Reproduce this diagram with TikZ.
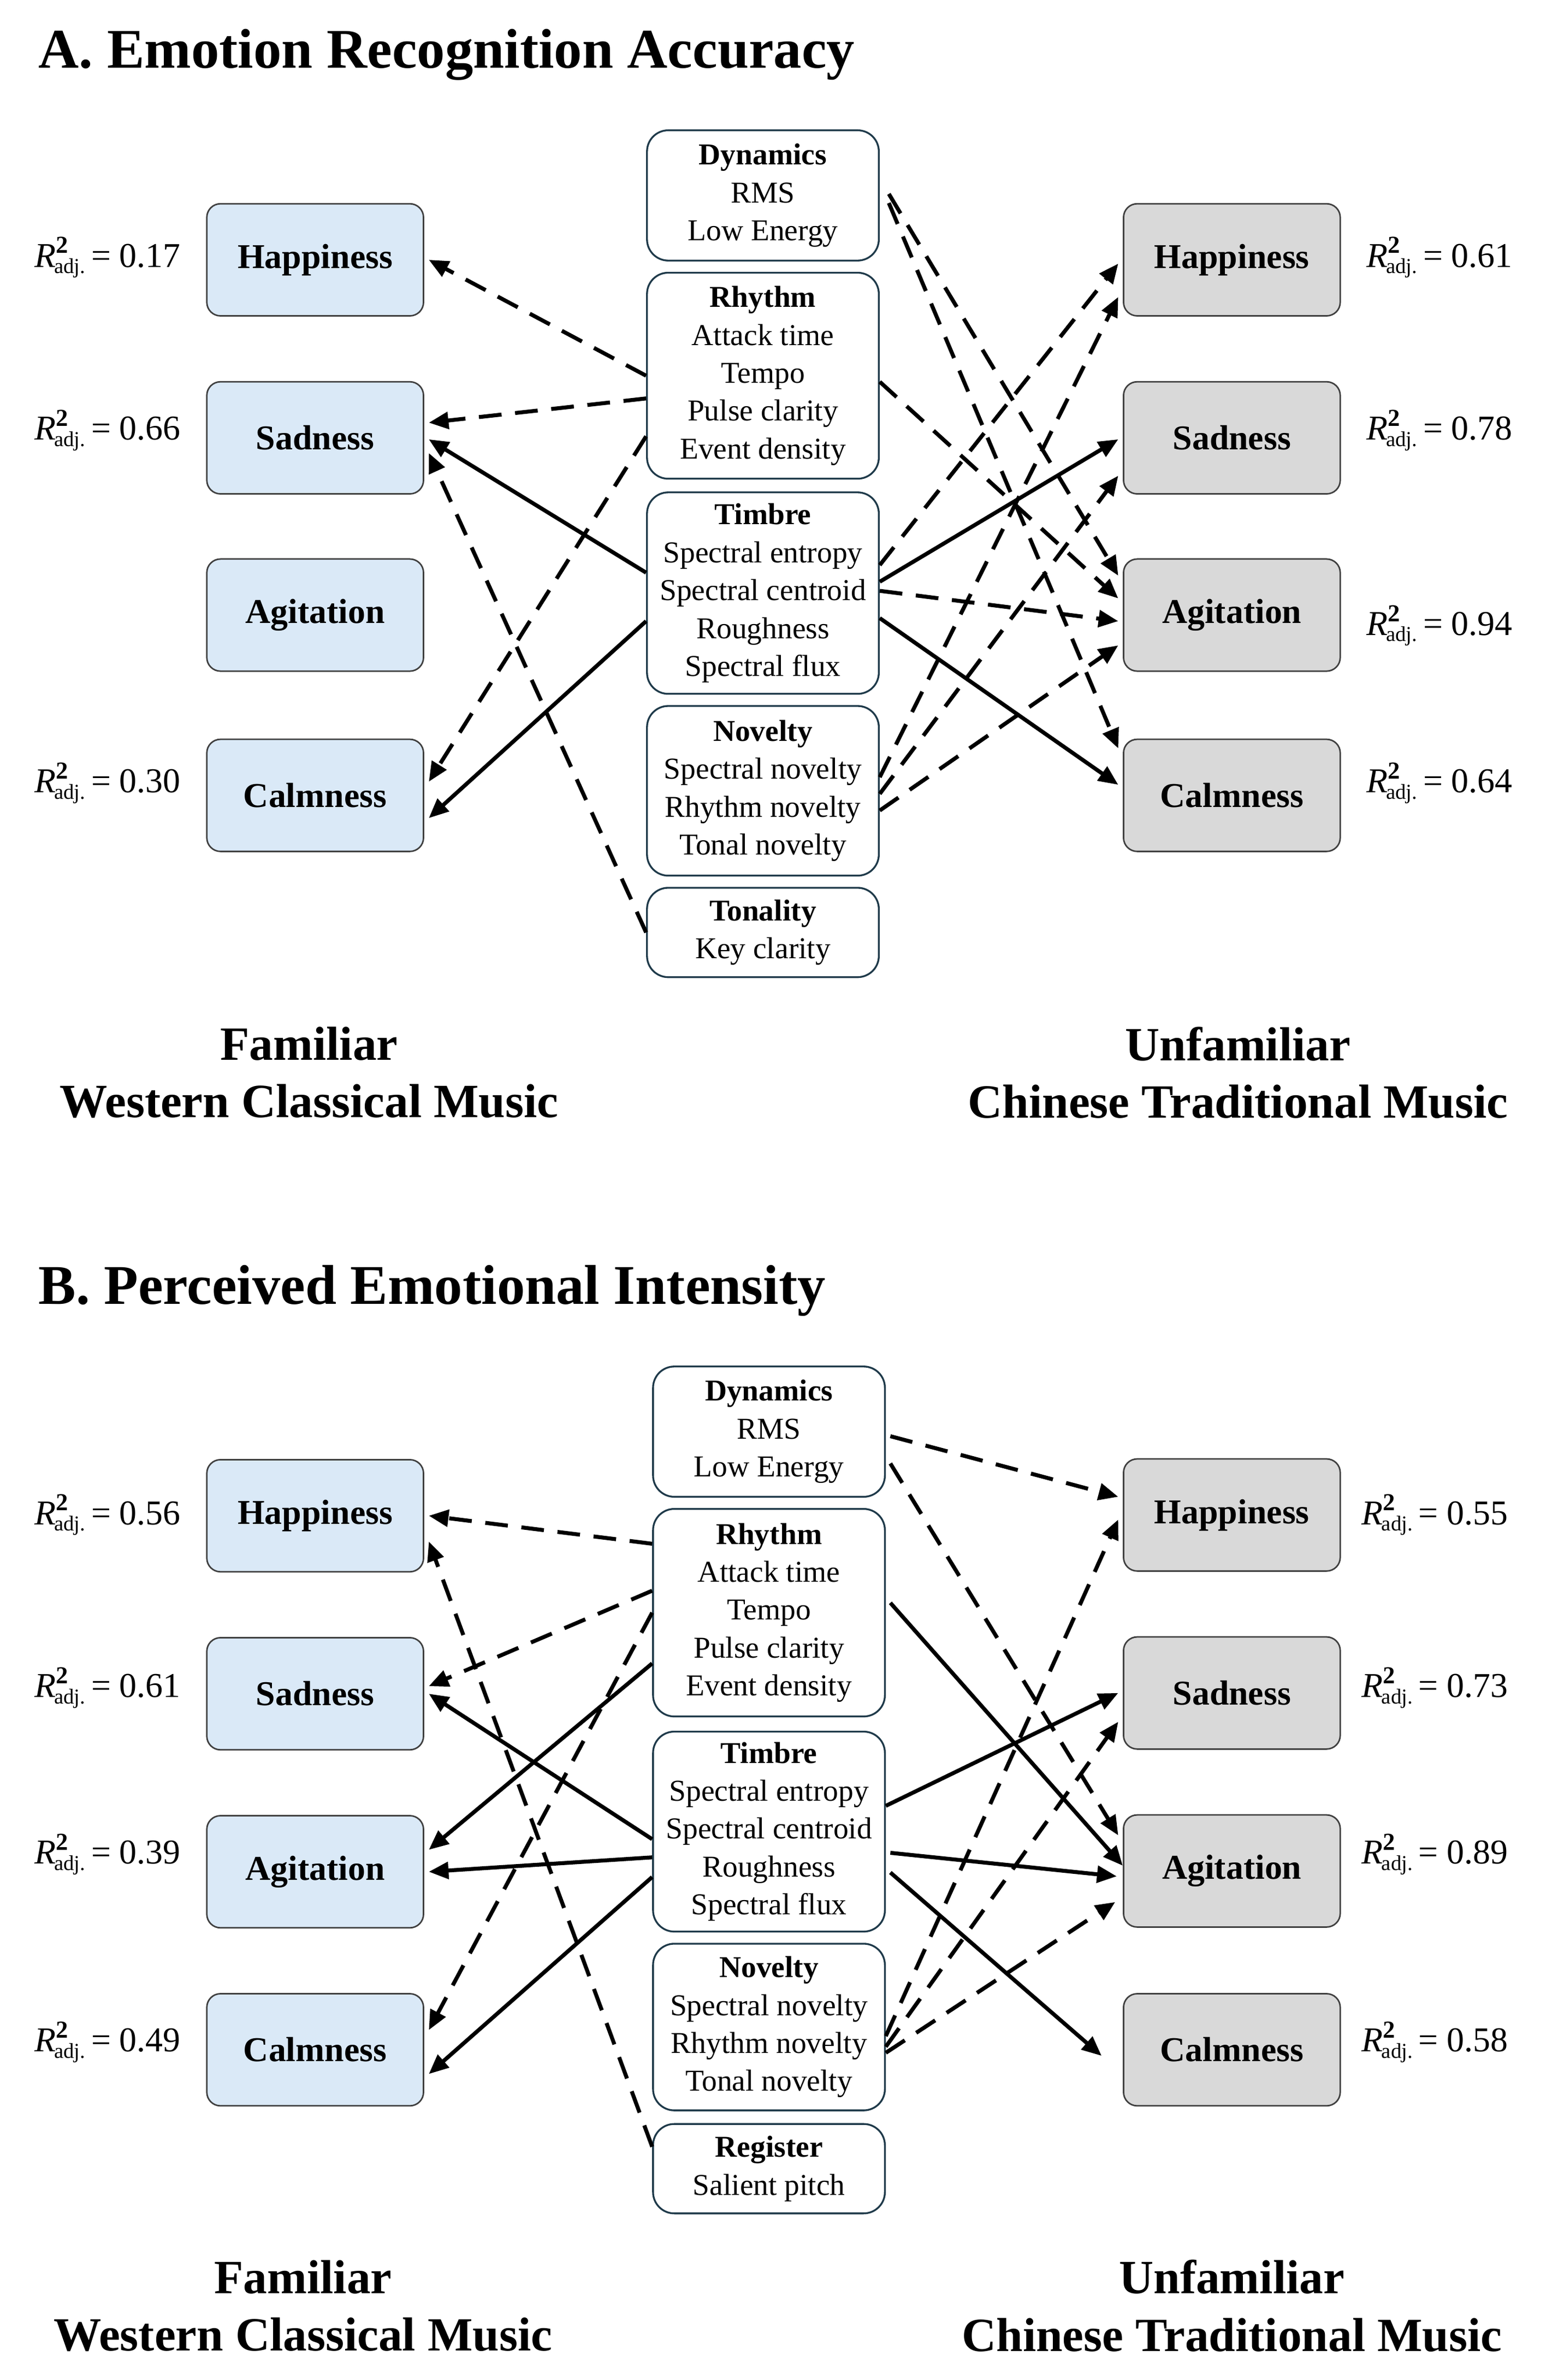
\documentclass[tikz,border=0pt]{standalone}
\usepackage{fontspec}
\setmainfont{Liberation Serif}
\usetikzlibrary{arrows.meta}
\definecolor{lb}{HTML}{DAE9F7}
\definecolor{gr}{HTML}{D9D9D9}
\definecolor{mb}{HTML}{1F3A4A}
\newcommand{\Rsq}[1]{\textit{R}\textsuperscript{\textbf{2}}\kern-0.42em\raisebox{-0.4ex}{\fontsize{14}{14}\selectfont adj.}\,= #1}
\begin{document}
\begin{tikzpicture}[x=1pt,y=-1pt,
 emo/.style={draw=black!75,line width=1pt,rounded corners=9pt,minimum width=143pt,minimum height=74pt,inner sep=0pt,font=\fontsize{23}{23}\selectfont\bfseries},
 L/.style={emo,fill=lb},
 R/.style={emo,fill=gr},
 mid/.style={draw=mb,line width=1.2pt,rounded corners=14pt,minimum width=153pt,inner sep=0pt,align=center,font=\fontsize{20}{25}\selectfont},
 rsq/.style={font=\fontsize{23}{23}\selectfont},
 title/.style={anchor=west,font=\fontsize{37}{37}\selectfont\bfseries},
 foot/.style={font=\fontsize{31.5}{38}\selectfont\bfseries,align=center},
 ar/.style={line width=2.6pt,-{Triangle[length=13pt,width=11pt]}},
 da/.style={ar,dash pattern=on 15pt off 9pt}]
\useasboundingbox (0,0) rectangle (1024,1571);
% ---------- Part A ----------
\node[title] (tA) at (22,36) {A. Emotion Recognition Accuracy};
\node[L] (aLH) at (208,171.5) {Happiness};
\node[L] (aLS) at (208,289) {Sadness};
\node[L] (aLA) at (208,406) {Agitation};
\node[L] (aLC) at (208,525) {Calmness};
\node[R] (aRH) at (813,171.5) {Happiness};
\node[R] (aRS) at (813,289) {Sadness};
\node[R] (aRA) at (813,406) {Agitation};
\node[R] (aRC) at (813,525) {Calmness};
\node[rsq] (ra1) at (71,170) {\Rsq{0.17}};
\node[rsq] (ra2) at (71,284) {\Rsq{0.66}};
\node[rsq] (ra3) at (71,517) {\Rsq{0.30}};
\node[rsq] (ra4) at (950,170) {\Rsq{0.61}};
\node[rsq] (ra5) at (950,284) {\Rsq{0.78}};
\node[rsq] (ra6) at (950,413) {\Rsq{0.94}};
\node[rsq] (ra7) at (950,517) {\Rsq{0.64}};
\node[mid,minimum height=86pt] (aD) at (503.5,129) {\textbf{Dynamics}\\RMS\\Low Energy};
\node[mid,minimum height=136pt] (aRy) at (503.5,248) {\textbf{Rhythm}\\Attack time\\Tempo\\Pulse clarity\\Event density};
\node[mid,minimum height=133pt] (aT) at (503.5,391.5) {\textbf{Timbre}\\Spectral entropy\\Spectral centroid\\Roughness\\Spectral flux};
\node[mid,minimum height=112pt] (aN) at (503.5,522) {\textbf{Novelty}\\Spectral novelty\\Rhythm novelty\\Tonal novelty};
\node[mid,minimum height=59pt] (aK) at (503.5,615.5) {\textbf{Tonality}\\Key clarity};
\node[foot] (fA1) at (204,708) {Familiar\\Western Classical Music};
\node[foot] (fA2) at (817,708) {Unfamiliar\\Chinese Traditional Music};
% right A
\draw[da] ([yshift=1pt,xshift=6pt]aD.east) -- ([yshift=26pt,xshift=-3pt]aRA.west);
\draw[da] ([yshift=-5pt,xshift=6pt]aD.east) -- ([yshift=31pt,xshift=-3pt]aRC.west);
\draw[da] ([yshift=-4pt]aRy.east) -- ([yshift=11pt,xshift=-3pt]aRA.west);
\draw[da] ([yshift=18.5pt]aT.east) -- ([yshift=-2.5pt,xshift=-3pt]aRH.west);
\draw[ar] ([yshift=7.5pt]aT.east) -- ([yshift=-1pt,xshift=-3pt]aRS.west);
\draw[da] ([yshift=1.5pt]aT.east) -- ([yshift=-4pt,xshift=-3pt]aRA.west);
\draw[ar] ([yshift=-16.5pt]aT.east) -- ([yshift=7pt,xshift=-3pt]aRC.west);
\draw[da] ([yshift=9pt]aN.east) -- ([yshift=-24.5pt,xshift=-3pt]aRH.west);
\draw[da] ([yshift=-2pt]aN.east) -- ([yshift=-25pt,xshift=-3pt]aRS.west);
\draw[da] ([yshift=-13pt]aN.east) -- ([yshift=-20pt,xshift=-3pt]aRA.west);
% left A
\draw[da] ([yshift=0pt]aRy.west) -- ([yshift=0pt,xshift=3pt]aLH.east);
\draw[da] ([yshift=-15pt]aRy.west) -- ([yshift=10pt,xshift=3pt]aLS.east);
\draw[da] ([yshift=-40pt]aRy.west) -- ([yshift=9pt,xshift=3pt]aLC.east);
\draw[ar] ([yshift=13.5pt]aT.west) -- ([yshift=-1pt,xshift=3pt]aLS.east);
\draw[ar] ([yshift=-18.5pt]aT.west) -- ([yshift=-15pt,xshift=3pt]aLC.east);
\draw[da] ([yshift=0pt]aK.west) -- ([yshift=-10pt,xshift=3pt]aLS.east);
% ---------- Part B ----------
\node[title] (tB) at (22,852) {B. Perceived Emotional Intensity};
\node[L] (bLH) at (208,1000.5) {Happiness};
\node[L] (bLS) at (208,1118) {Sadness};
\node[L] (bLA) at (208,1235.5) {Agitation};
\node[L] (bLC) at (208,1353) {Calmness};
\node[R] (bRH) at (813,1000) {Happiness};
\node[R] (bRS) at (813,1117.5) {Sadness};
\node[R] (bRA) at (813,1235) {Agitation};
\node[R] (bRC) at (813,1353) {Calmness};
\node[rsq] (rb1) at (71,1000) {\Rsq{0.56}};
\node[rsq] (rb2) at (71,1114) {\Rsq{0.61}};
\node[rsq] (rb3) at (71,1224) {\Rsq{0.39}};
\node[rsq] (rb4) at (71,1348) {\Rsq{0.49}};
\node[rsq] (rb5) at (947,1000) {\Rsq{0.55}};
\node[rsq] (rb6) at (947,1114) {\Rsq{0.73}};
\node[rsq] (rb7) at (947,1224) {\Rsq{0.89}};
\node[rsq] (rb8) at (947,1348) {\Rsq{0.58}};
\node[mid,minimum height=86pt] (bD) at (507.5,945) {\textbf{Dynamics}\\RMS\\Low Energy};
\node[mid,minimum height=137pt] (bRy) at (507.5,1064.5) {\textbf{Rhythm}\\Attack time\\Tempo\\Pulse clarity\\Event density};
\node[mid,minimum height=132pt] (bT) at (507.5,1209) {\textbf{Timbre}\\Spectral entropy\\Spectral centroid\\Roughness\\Spectral flux};
\node[mid,minimum height=110pt] (bN) at (507.5,1338) {\textbf{Novelty}\\Spectral novelty\\Rhythm novelty\\Tonal novelty};
\node[mid,minimum height=59pt] (bG) at (507.5,1431.5) {\textbf{Register}\\Salient pitch};
\node[foot] (fB1) at (200,1522) {Familiar\\Western Classical Music};
\node[foot] (fB2) at (813,1522) {Unfamiliar\\Chinese Traditional Music};
% right B
\draw[da] ([yshift=-3pt,xshift=3pt]bD.east) -- ([yshift=12pt,xshift=-3pt]bRH.west);
\draw[da] ([yshift=-21pt,xshift=3pt]bD.east) -- ([yshift=23.5pt,xshift=-3pt]bRA.west);
\draw[ar] ([yshift=6.5pt,xshift=3pt]bRy.east) -- ([yshift=3.5pt]bRA.west);
\draw[ar] ([yshift=17pt]bT.east) -- ([yshift=0pt,xshift=-3pt]bRS.west);
\draw[ar] ([yshift=-14pt,xshift=3pt]bT.east) -- ([yshift=-3.5pt,xshift=-4pt]bRA.west);
\draw[ar] ([yshift=-27pt,xshift=3pt]bT.east) -- ([yshift=-4pt,xshift=-14pt]bRC.west);
\draw[da] ([yshift=-6pt]bN.east) -- ([yshift=-3pt,xshift=-3pt]bRH.west);
\draw[da] ([yshift=-13pt]bN.east) -- ([yshift=-19pt,xshift=-3pt]bRS.west);
\draw[da] ([yshift=-17pt]bN.east) -- ([yshift=-20.5pt,xshift=-5pt]bRA.west);
% left B
\draw[da] ([yshift=45.5pt]bRy.west) -- ([yshift=0pt,xshift=3pt]bLH.east);
\draw[da] ([yshift=14.5pt]bRy.west) -- ([yshift=5pt,xshift=3pt]bLS.east);
\draw[ar] ([yshift=-33.5pt]bRy.west) -- ([yshift=14.5pt,xshift=3pt]bLA.east);
\draw[da] ([yshift=0pt]bRy.west) -- ([yshift=13pt,xshift=3pt]bLC.east);
\draw[ar] ([yshift=-5pt]bT.west) -- ([yshift=0pt,xshift=3pt]bLS.east);
\draw[ar] ([yshift=-17pt]bT.west) -- ([yshift=0pt,xshift=3pt]bLA.east);
\draw[ar] ([yshift=-30pt]bT.west) -- ([yshift=-16pt,xshift=3pt]bLC.east);
\draw[da] ([yshift=14.5pt]bG.west) -- ([yshift=-17pt,xshift=3pt]bLH.east);
\end{tikzpicture}
\end{document}
